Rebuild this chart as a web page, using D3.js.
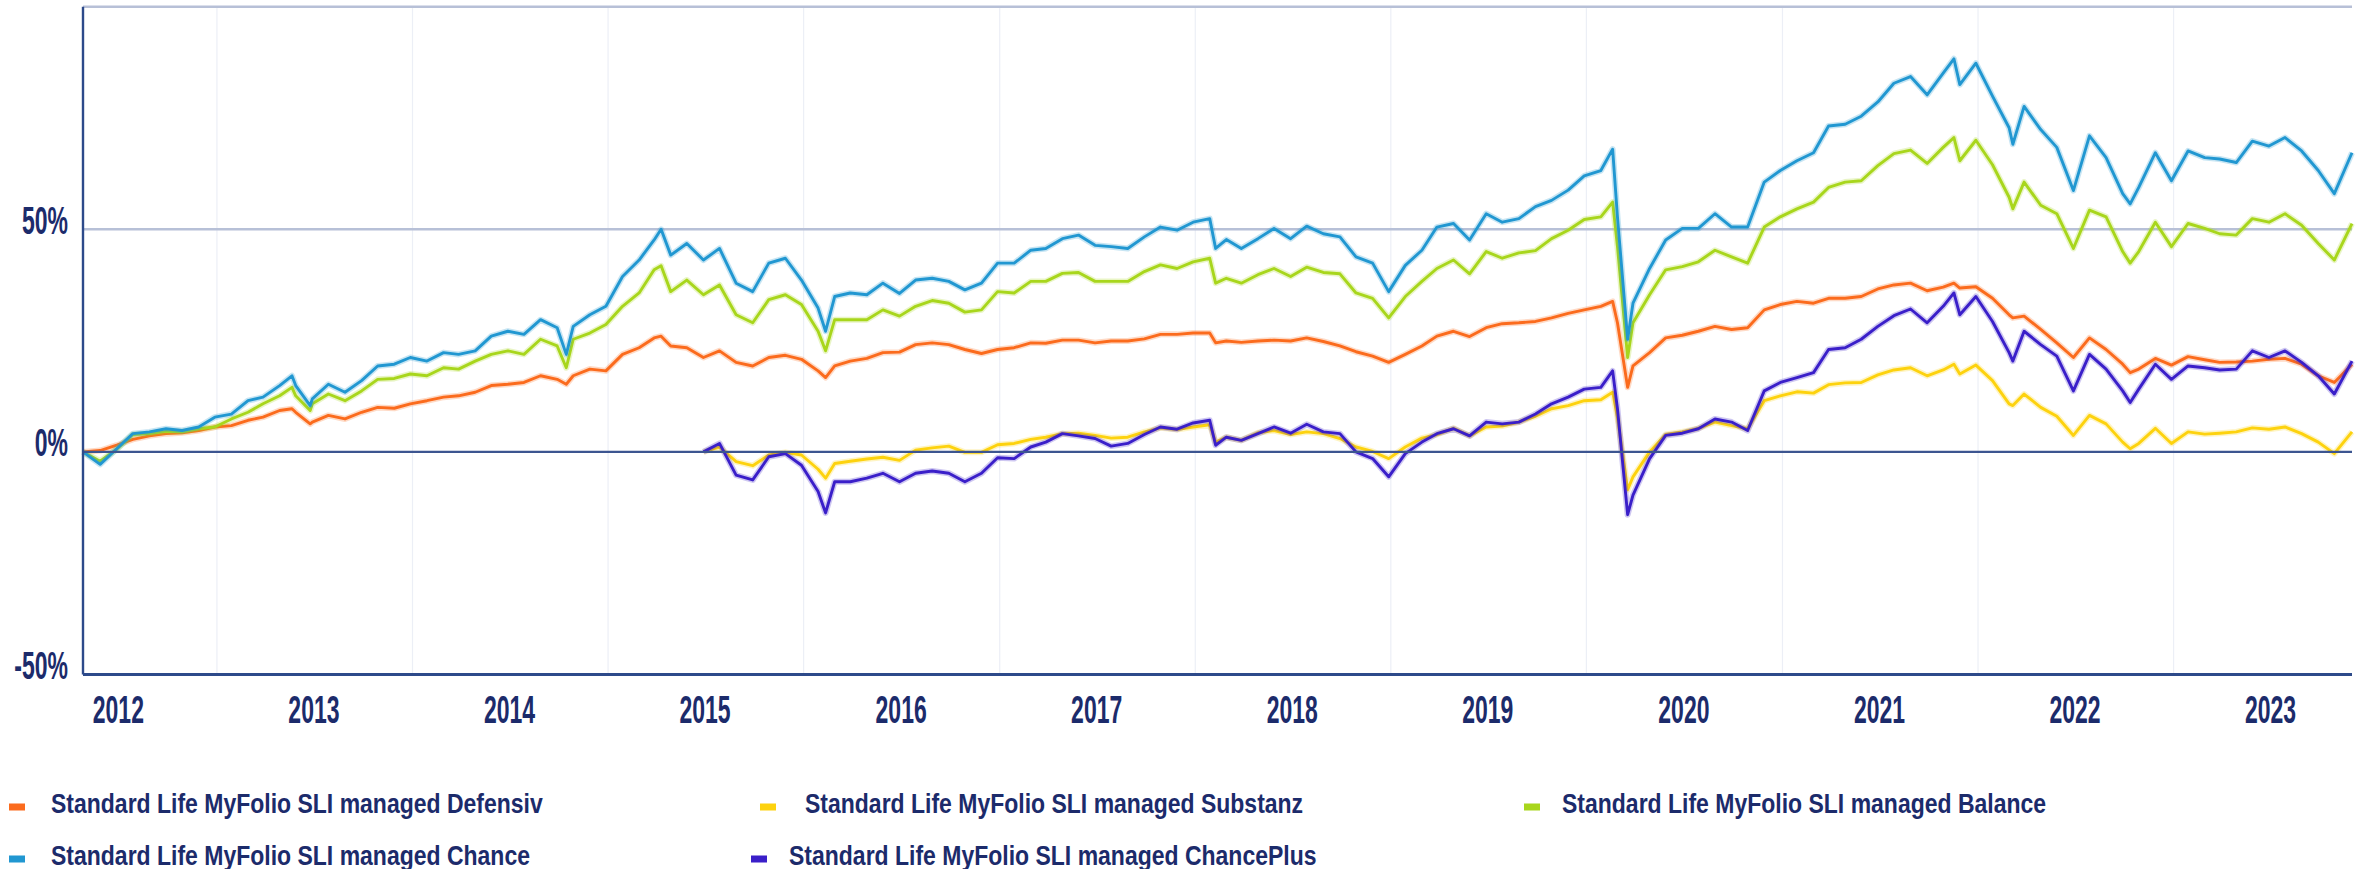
<!DOCTYPE html>
<html>
<head>
<meta charset="utf-8">
<script src="https://cdn.jsdelivr.net/npm/d3@7"></script>
<style>
    html, body { margin: 0; padding: 0; background: #ffffff; }
    svg { display: block; }
    .label { font-family: "Liberation Sans", Arial, sans-serif; font-weight: bold; fill: #1c2b6b; }
</style>
</head>
<body>
<script>
// Dates of the readings (month ends plus a few turning points)
const DATES = [
    "2012-04-26","2012-05-28","2012-06-28","2012-07-28","2012-08-28","2012-09-28","2012-10-28","2012-11-28","2012-12-28",
    "2013-01-28","2013-02-28","2013-03-28","2013-04-28","2013-05-21","2013-05-28","2013-06-24","2013-06-28","2013-07-28","2013-08-28","2013-09-28","2013-10-28","2013-11-28","2013-12-28",
    "2014-01-28","2014-02-28","2014-03-28","2014-04-28","2014-05-28","2014-06-28","2014-07-28","2014-08-28","2014-09-28","2014-10-15","2014-10-28","2014-11-28","2014-12-28",
    "2015-01-28","2015-02-28","2015-03-28","2015-04-10","2015-04-28","2015-05-28","2015-06-28","2015-07-28","2015-08-28","2015-09-28","2015-10-28","2015-11-28","2015-12-28",
    "2016-01-28","2016-02-11","2016-02-28","2016-03-28","2016-04-28","2016-05-28","2016-06-28","2016-07-28","2016-08-28","2016-09-28","2016-10-28","2016-11-28","2016-12-28",
    "2017-01-28","2017-02-28","2017-03-28","2017-04-28","2017-05-28","2017-06-28","2017-07-28","2017-08-28","2017-09-28","2017-10-28","2017-11-28","2017-12-28",
    "2018-01-28","2018-02-08","2018-02-28","2018-03-28","2018-04-28","2018-05-28","2018-06-28","2018-07-28","2018-08-28","2018-09-28","2018-10-28","2018-11-28","2018-12-28",
    "2019-01-28","2019-02-28","2019-03-28","2019-04-28","2019-05-28","2019-06-28","2019-07-28","2019-08-28","2019-09-28","2019-10-28","2019-11-28","2019-12-28",
    "2020-01-28","2020-02-19","2020-02-28","2020-03-18","2020-03-28","2020-04-28","2020-05-28","2020-06-28","2020-07-28","2020-08-28","2020-09-28","2020-10-28","2020-11-28","2020-12-28",
    "2021-01-28","2021-02-28","2021-03-28","2021-04-28","2021-05-28","2021-06-28","2021-07-28","2021-08-28","2021-09-28","2021-10-28","2021-11-17","2021-11-28","2021-12-28",
    "2022-01-28","2022-02-28","2022-03-07","2022-03-28","2022-04-28","2022-05-28","2022-06-28","2022-07-28","2022-08-28","2022-09-28","2022-10-12","2022-10-28","2022-11-28","2022-12-28",
    "2023-01-28","2023-02-28","2023-03-28","2023-04-28","2023-05-28","2023-06-28","2023-07-28","2023-08-28","2023-09-28","2023-10-28","2023-11-30"
];

// Cumulative performance in %
const DEFENSIV = [
    0, 0.3, 1.5, 2.8, 3.6, 4.1, 4.3, 4.8, 5.6,
    5.9, 7.1, 7.8, 9.3, 9.7, 8.9, 6.3, 6.7, 8.2, 7.4, 8.9, 10.0, 9.8, 10.8,
    11.5, 12.3, 12.6, 13.4, 14.9, 15.2, 15.6, 17.1, 16.3, 15.2, 17.1, 18.6, 18.2,
    21.9, 23.4, 25.6, 26.0, 23.8, 23.4, 21.2, 22.7, 20.1, 19.3, 21.2, 21.7, 20.8,
    18.2, 16.7, 19.3, 20.4, 21.0, 22.3, 22.4, 24.1, 24.5, 24.1, 23.0, 22.1, 23.0,
    23.4, 24.5, 24.4, 25.1, 25.1, 24.5, 24.9, 24.9, 25.4, 26.4, 26.4, 26.7,
    26.7, 24.5, 24.9, 24.6, 24.9, 25.1, 24.9, 25.6, 24.8, 23.8, 22.5, 21.5, 20.1,
    21.9, 23.8, 26.0, 27.1, 25.9, 27.9, 28.8, 29.0, 29.3, 30.1, 31.1, 31.9,
    32.7, 33.8, 29.0, 14.5, 19.3, 22.3, 25.6, 26.2, 27.1, 28.2, 27.5, 27.9, 31.9, 33.1,
    33.8, 33.4, 34.5, 34.5, 34.9, 36.6, 37.5, 37.9, 36.2, 37.0, 37.9, 36.8, 37.1,
    34.5, 30.8, 30.1, 30.5, 27.5, 24.5, 21.2, 25.6, 23.0, 19.7, 17.8, 18.6, 21.0, 19.5,
    21.4, 20.7, 20.1, 20.2, 20.4, 20.8, 21.0, 19.7, 17.1, 15.6, 19.7
];

const BALANCE = [
    0, -2.1, 0.6, 3.9, 4.1, 4.6, 4.5, 5.2, 5.6,
    7.4, 8.9, 10.8, 12.6, 14.5, 12.6, 9.3, 10.8, 13.0, 11.5, 13.7, 16.3, 16.5, 17.5,
    17.1, 18.9, 18.6, 20.4, 21.9, 22.7, 21.9, 25.3, 23.8, 18.9, 25.3, 26.7, 28.6,
    32.7, 35.7, 40.9, 41.8, 36.0, 38.6, 35.3, 37.5, 30.8, 29.0, 34.2, 35.3, 33.1,
    27.1, 22.7, 29.7, 29.7, 29.7, 31.9, 30.5, 32.7, 34.0, 33.4, 31.4, 31.9, 36.0,
    35.7, 38.3, 38.3, 40.1, 40.3, 38.3, 38.3, 38.3, 40.5, 42.0, 41.2, 42.7,
    43.5, 37.9, 39.0, 37.9, 39.8, 41.2, 39.4, 41.5, 40.3, 40.0, 35.7, 34.5, 30.1,
    34.9, 38.3, 41.2, 43.1, 40.0, 45.0, 43.5, 44.7, 45.2, 47.9, 49.8, 52.2,
    52.8, 56.1, 46.1, 21.2, 29.0, 35.3, 40.9, 41.6, 42.7, 45.3, 43.8, 42.4, 50.5, 52.8,
    54.6, 56.1, 59.4, 60.6, 60.9, 64.3, 67.0, 67.8, 64.8, 68.4, 70.6, 65.4, 70.0,
    64.5, 57.2, 54.6, 60.6, 55.4, 53.5, 45.7, 54.3, 52.8, 45.0, 42.4, 45.0, 51.6, 46.1,
    51.3, 50.2, 49.0, 48.7, 52.4, 51.6, 53.5, 50.9, 46.8, 43.1, 51.3
];

const CHANCE = [
    0, -2.8, 0.7, 4.1, 4.5, 5.2, 4.8, 5.6, 7.8,
    8.5, 11.5, 12.3, 14.9, 17.1, 14.9, 10.4, 11.9, 15.2, 13.4, 16.0, 19.3, 19.7, 21.2,
    20.4, 22.3, 21.9, 22.7, 26.0, 27.1, 26.4, 29.7, 27.9, 21.9, 28.2, 30.8, 32.7,
    39.4, 43.1, 47.6, 50.0, 44.2, 46.8, 43.1, 45.7, 37.9, 36.0, 42.4, 43.5, 38.6,
    32.3, 27.1, 34.9, 35.7, 35.3, 37.9, 35.6, 38.6, 39.0, 38.3, 36.4, 37.9, 42.4,
    42.4, 45.3, 45.7, 47.9, 48.7, 46.4, 46.1, 45.7, 48.3, 50.5, 49.8, 51.6,
    52.4, 45.7, 47.7, 45.7, 47.9, 50.2, 47.9, 50.7, 49.0, 48.3, 43.8, 42.4, 36.0,
    41.9, 45.3, 50.5, 51.3, 47.6, 53.5, 51.6, 52.4, 55.1, 56.5, 58.8, 62.0,
    63.2, 68.0, 52.8, 25.3, 33.4, 41.2, 47.6, 50.2, 50.2, 53.5, 50.5, 50.5, 60.6, 63.2,
    65.4, 67.2, 73.2, 73.6, 75.4, 78.6, 82.8, 84.3, 80.2, 85.1, 88.3, 82.5, 87.3,
    79.9, 72.8, 69.1, 77.6, 72.4, 68.4, 58.7, 71.0, 66.1, 58.0, 55.7, 59.4, 67.2, 60.9,
    67.6, 66.1, 65.8, 65.0, 69.8, 68.7, 70.6, 67.6, 63.2, 58.0, 67.2
];

// These two funds start later
const LATE_START = "2015-06-28";

const SUBSTANZ = [
    0, 1.1, -2.2, -3.1, -0.7, -0.1, -0.7,
    -3.9, -5.9, -2.6, -2.1, -1.6, -1.2, -1.9, 0.4, 0.9, 1.3, -0.1, -0.1, 1.6,
    1.9, 2.8, 3.3, 4.1, 4.2, 3.7, 3.1, 3.3, 4.5, 5.4, 5.0, 5.6,
    6.1, 2.2, 3.3, 2.6, 4.3, 4.8, 3.9, 4.5, 4.1, 3.0, 1.1, 0.1, -1.5,
    1.1, 3.1, 3.9, 5.3, 3.6, 5.6, 5.8, 6.7, 8.0, 9.7, 10.4, 11.5,
    11.7, 13.4, 7.8, -8.5, -5.6, 0.0, 3.9, 4.5, 5.3, 6.7, 5.9, 5.2, 11.5, 12.6,
    13.5, 13.2, 15.1, 15.5, 15.6, 17.3, 18.4, 18.9, 17.1, 18.4, 19.7, 17.5, 19.5,
    16.0, 10.8, 10.4, 13.0, 10.0, 8.0, 3.7, 8.2, 6.3, 2.2, 0.7, 1.9, 5.3, 1.9,
    4.5, 4.0, 4.2, 4.5, 5.4, 5.1, 5.6, 4.1, 2.2, -0.4, 4.5
];

const CHANCE_PLUS = [
    0, 1.9, -5.2, -6.3, -1.1, -0.4, -3.0,
    -8.9, -13.7, -6.7, -6.7, -5.9, -4.8, -6.7, -4.8, -4.3, -4.8, -6.7, -4.8, -1.3,
    -1.5, 1.1, 2.2, 4.1, 3.6, 3.0, 1.3, 1.9, 3.9, 5.6, 5.1, 6.5,
    7.1, 1.5, 3.3, 2.6, 4.1, 5.6, 4.2, 6.2, 4.5, 4.1, 0.0, -1.5, -5.6,
    -0.4, 2.2, 4.1, 5.2, 3.6, 6.7, 6.3, 6.7, 8.5, 10.8, 12.3, 14.1,
    14.5, 18.2, 9.7, -14.1, -9.7, -1.5, 3.7, 4.2, 5.2, 7.4, 6.7, 4.8, 13.7, 15.6,
    16.7, 17.8, 23.0, 23.4, 25.3, 28.2, 30.6, 32.1, 29.0, 32.7, 35.7, 30.8, 34.9,
    29.3, 22.3, 20.4, 27.1, 24.1, 21.5, 13.7, 21.9, 18.6, 13.7, 11.1, 14.1, 19.7, 16.3,
    19.3, 18.9, 18.4, 18.6, 22.7, 21.2, 22.7, 20.1, 17.1, 13.0, 20.4
];

const SERIES_NAMES = [
    "Standard Life MyFolio SLI managed Defensiv",
    "Standard Life MyFolio SLI managed Substanz",
    "Standard Life MyFolio SLI managed Balance",
    "Standard Life MyFolio SLI managed Chance",
    "Standard Life MyFolio SLI managed ChancePlus"
];
const SERIES_COLORS = ["#fb6b1d", "#fdd20e", "#a8d61c", "#2197d1", "#3a1fc9"];

const Y_TICKS = [-50, 0, 50];
const Y_TICK_LABELS = ["-50%", "0%", "50%"];
const YEARS = [2012, 2013, 2014, 2015, 2016, 2017, 2018, 2019, 2020, 2021, 2022, 2023];

// Layout
const WIDTH = 2362, HEIGHT = 869;
const PLOT = { left: 83, right: 2352, top: 6.7, bottom: 674.5 };
const X_START = "2012-04-26", X_END = "2023-11-30";
const TEXT_STRETCH = 1.7;     // axis labels are tall and narrow
const LEGEND_STRETCH = 1.2;

// Legend slots: marker x, text x, row baseline
const LEGEND_SLOTS = [
    { mx: 9, tx: 51, y: 813 },
    { mx: 760, tx: 805, y: 813 },
    { mx: 1524, tx: 1562, y: 813 },
    { mx: 9, tx: 51, y: 865 },
    { mx: 751, tx: 789, y: 865 }
];

class PerformanceChart {
    constructor() {
        this.parse = d3.utcParse("%Y-%m-%d");
        this.svg = d3.select("body").append("svg")
            .attr("width", WIDTH)
            .attr("height", HEIGHT);
        this.x = d3.scaleUtc()
            .domain([this.parse(X_START), this.parse(X_END)])
            .range([PLOT.left, PLOT.right]);
        this.y = d3.scaleLinear()
            .domain([-50, 100])
            .range([PLOT.bottom, PLOT.top]);
    }

    buildSeries() {
        const dates = DATES.map(this.parse);
        const lateDates = dates.slice(DATES.indexOf(LATE_START));
        const pair = (ds, vs) => ds.map((d, i) => ({ date: d, value: vs[i] }));
        return [
            pair(dates, DEFENSIV),
            pair(lateDates, SUBSTANZ),
            pair(dates, BALANCE),
            pair(dates, CHANCE),
            pair(lateDates, CHANCE_PLUS)
        ];
    }

    renderGrid() {
        const g = this.svg.append("g");
        const yearStarts = d3.utcYear.range(this.x.domain()[0], this.x.domain()[1]);

        g.selectAll("line.vgrid")
            .data(yearStarts)
            .enter().append("line")
            .attr("x1", d => this.x(d)).attr("x2", d => this.x(d))
            .attr("y1", PLOT.top).attr("y2", PLOT.bottom)
            .attr("stroke", "#eceff6").attr("stroke-width", 1.2);

        // top border and 50% line
        [100, 50].forEach(v => {
            g.append("line")
                .attr("x1", PLOT.left).attr("x2", PLOT.right)
                .attr("y1", this.y(v)).attr("y2", this.y(v))
                .attr("stroke", "#b7c0d7").attr("stroke-width", 2.4);
        });
    }

    renderLines(series) {
        const line = d3.line()
            .defined(d => d.value != null)
            .x(d => this.x(d.date))
            .y(d => this.y(d.value));

        const g = this.svg.append("g");
        series.forEach((data, i) => {
            // soft halo under each line
            g.append("path")
                .attr("d", line(data))
                .attr("fill", "none")
                .attr("stroke", SERIES_COLORS[i])
                .attr("stroke-opacity", 0.25)
                .attr("stroke-width", 6)
                .attr("stroke-linejoin", "round");
            g.append("path")
                .attr("d", line(data))
                .attr("fill", "none")
                .attr("stroke", SERIES_COLORS[i])
                .attr("stroke-width", 2.9)
                .attr("stroke-linejoin", "round");
        });
    }

    renderAxes() {
        const g = this.svg.append("g");

        // zero line
        g.append("line")
            .attr("x1", PLOT.left).attr("x2", PLOT.right)
            .attr("y1", this.y(0)).attr("y2", this.y(0))
            .attr("stroke", "#3c5590").attr("stroke-width", 2.4);

        // left and bottom axis lines
        g.append("line")
            .attr("x1", PLOT.left).attr("x2", PLOT.left)
            .attr("y1", PLOT.top).attr("y2", PLOT.bottom)
            .attr("stroke", "#2d4a8a").attr("stroke-width", 2.4);
        g.append("line")
            .attr("x1", PLOT.left).attr("x2", PLOT.right)
            .attr("y1", PLOT.bottom).attr("y2", PLOT.bottom)
            .attr("stroke", "#2d4a8a").attr("stroke-width", 3);

        // y labels
        g.selectAll("text.ytick")
            .data(Y_TICKS)
            .enter().append("text")
            .attr("class", "label")
            .attr("text-anchor", "end")
            .attr("font-size", 23)
            .attr("transform", d => `translate(68,${this.y(d) + 4.5}) scale(1,${TEXT_STRETCH})`)
            .text((d, i) => Y_TICK_LABELS[i]);

        // year labels centred in each year
        g.selectAll("text.xtick")
            .data(YEARS)
            .enter().append("text")
            .attr("class", "label")
            .attr("text-anchor", "middle")
            .attr("font-size", 23)
            .attr("transform", yr => {
                const mid = this.x(new Date(Date.UTC(yr, 6, 1)));
                return `translate(${mid},723) scale(1,${TEXT_STRETCH})`;
            })
            .text(yr => yr);
    }

    renderLegend() {
        const g = this.svg.append("g");
        SERIES_NAMES.forEach((name, i) => {
            const slot = LEGEND_SLOTS[i];
            g.append("rect")
                .attr("x", slot.mx).attr("y", slot.y - 9.5)
                .attr("width", 16).attr("height", 7)
                .attr("fill", SERIES_COLORS[i]);
            g.append("text")
                .attr("class", "label")
                .attr("font-size", 23)
                .attr("transform", `translate(${slot.tx},${slot.y}) scale(1,${LEGEND_STRETCH})`)
                .text(name);
        });
    }

    render() {
        const series = this.buildSeries();
        this.renderGrid();
        this.renderLines(series);
        this.renderAxes();
        this.renderLegend();
    }
}

document.addEventListener("DOMContentLoaded", () => {
    new PerformanceChart().render();
});
</script>
</body>
</html>
